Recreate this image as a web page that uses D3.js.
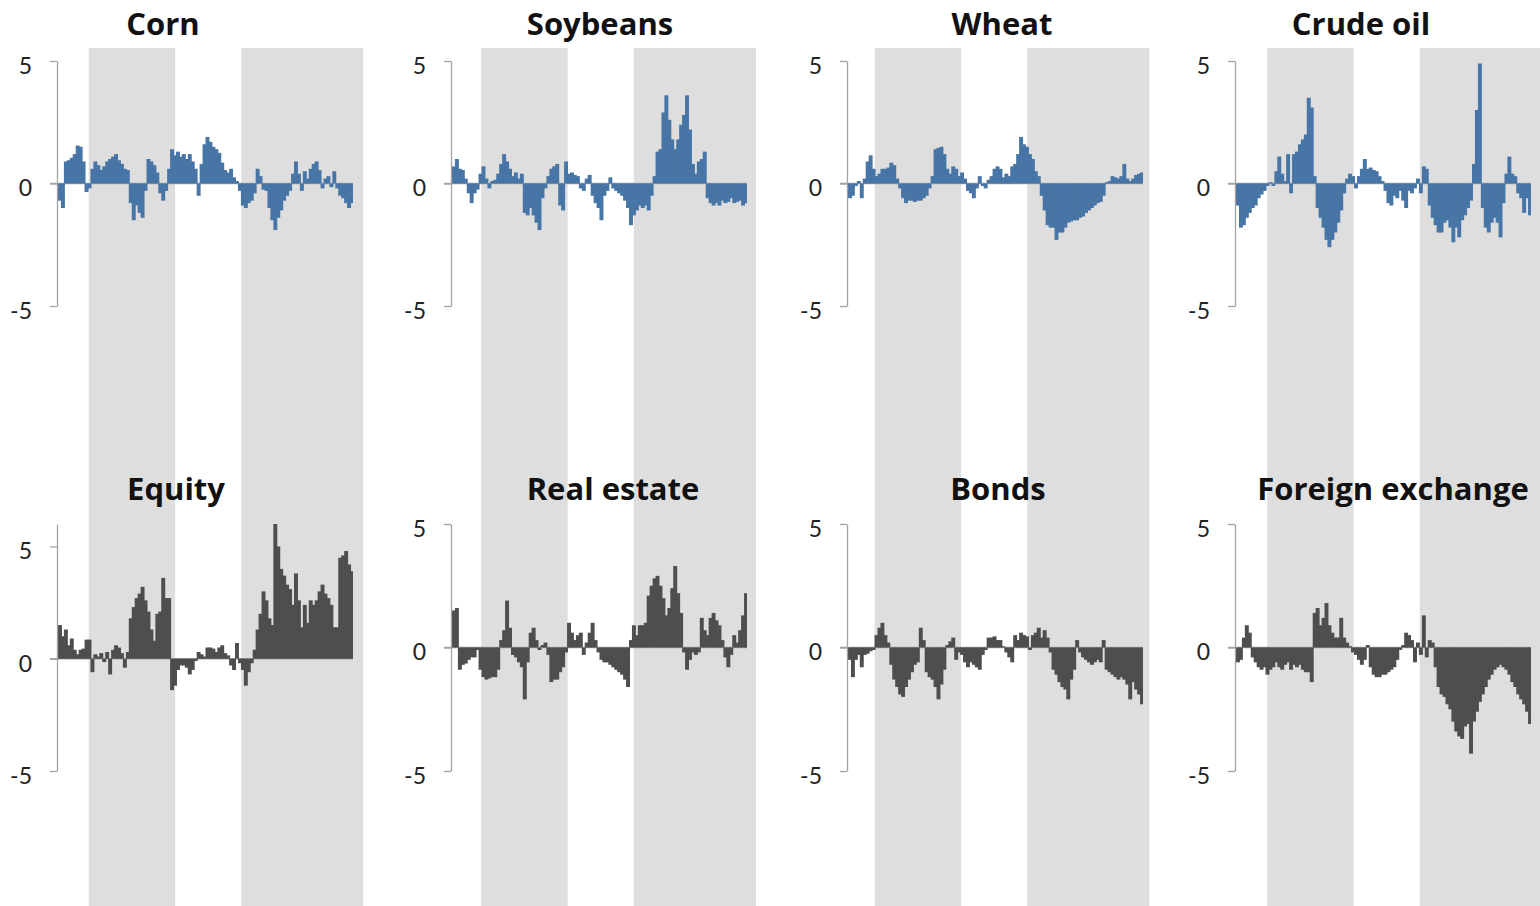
<!DOCTYPE html>
<html>
<head>
<meta charset="utf-8">
<script src="https://cdn.jsdelivr.net/npm/d3@7"></script>
<style>
  html, body { margin: 0; padding: 0; background: #fff; }
  svg { display: block; }
</style>
</head>
<body>
<svg id="chart" width="1540" height="906"></svg>
<script>
// ---- Series values (one bar per period) ----
const corn = [-0.7,-1.0,0.9,0.95,1.05,1.2,1.55,1.5,0.9,-0.35,
  -0.2,0.6,0.9,0.75,0.55,0.7,0.9,1.0,1.1,1.2,
  0.95,0.8,0.6,0.55,-0.8,-1.5,-0.9,-1.2,-1.4,-0.3,
  1.0,0.9,0.75,0.45,-0.4,-0.7,-0.3,0.6,1.4,1.15,
  1.3,1.1,1.2,1.0,1.2,0.9,0.6,-0.5,0.8,1.6,
  1.9,1.7,1.5,1.4,1.25,0.85,0.55,0.45,0.6,0.25,
  0.1,-0.3,-0.9,-1.0,-0.8,-0.7,-0.4,0.6,0.3,-0.25,
  -0.3,-1.0,-1.5,-1.9,-1.4,-1.1,-0.7,-0.5,-0.3,0.4,
  0.9,0.4,-0.3,0.5,0.2,0.6,0.8,0.9,0.55,-0.2,
  0.2,0.3,-0.15,0.5,-0.2,-0.5,-0.6,-0.8,-1.0,-0.8];

const soybeans = [0.7,1.0,0.6,0.55,0.2,-0.4,-0.8,-0.4,-0.25,0.4,
  0.7,0.2,-0.2,0.1,0.15,0.4,0.8,1.2,0.9,0.6,
  0.3,0.45,0.2,0.4,-1.2,-1.3,-1.0,-1.3,-1.6,-1.9,
  -0.6,-0.2,0.3,0.6,0.7,0.8,-0.9,-1.1,0.9,0.4,
  0.45,0.35,0.3,-0.2,-0.3,0.2,0.35,-0.5,-0.8,-1.0,
  -1.5,-0.5,-0.3,0.25,-0.2,-0.3,-0.4,-0.5,-0.7,-1.0,
  -1.7,-1.3,-1.1,-0.9,-1.0,-0.9,-1.1,-0.5,0.3,1.3,
  1.4,2.9,3.6,2.6,1.8,1.4,1.8,2.4,2.8,3.6,
  2.2,0.8,0.4,0.9,1.0,1.3,-0.6,-0.8,-0.9,-0.8,
  -0.9,-0.7,-0.8,-0.75,-0.6,-0.8,-0.75,-0.7,-0.9,-0.8];

const wheat = [-0.6,-0.5,-0.1,0.1,-0.6,0.2,0.9,1.15,0.6,0.3,
  0.4,0.6,0.6,0.65,0.85,0.75,0.2,-0.2,-0.6,-0.8,
  -0.7,-0.7,-0.75,-0.7,-0.7,-0.6,-0.5,-0.2,0.3,1.4,
  1.45,1.5,1.2,0.6,0.4,0.7,0.6,0.3,0.45,0.2,
  -0.3,-0.4,-0.6,-0.2,0.3,-0.1,-0.2,0.15,0.3,0.6,
  0.7,0.6,0.25,0.4,0.3,0.7,0.8,1.2,1.9,1.6,
  1.5,1.2,1.0,0.5,0.3,-0.5,-1.1,-1.7,-1.8,-1.8,
  -2.3,-2.0,-2.0,-1.8,-1.6,-1.55,-1.5,-1.5,-1.4,-1.35,
  -1.2,-1.1,-1.0,-0.9,-0.8,-0.75,-0.5,0.05,0.1,0.3,
  0.25,0.2,0.3,0.8,0.2,0.1,0.2,0.35,0.4,0.45];

const crudeOil = [-0.9,-1.8,-1.7,-1.4,-1.2,-1.0,-0.9,-0.6,-0.45,-0.3,
  -0.1,0.05,-0.1,0.5,1.1,0.4,0.1,1.2,-0.4,1.2,
  1.3,1.6,1.8,2.0,3.5,3.1,0.3,-1.0,-1.4,-1.8,
  -2.3,-2.6,-2.3,-2.0,-1.6,-1.1,-0.4,0.2,0.4,0.3,
  -0.2,0.3,0.6,1.0,0.6,0.65,0.55,0.5,0.3,0.1,
  -0.3,-0.8,-0.9,-0.5,-0.6,-0.3,-0.7,-1.0,-0.3,-0.4,
  -0.2,0.2,-0.4,0.7,0.6,-0.9,-1.4,-1.7,-2.0,-2.0,
  -1.6,-1.5,-1.8,-2.4,-1.8,-2.2,-1.5,-1.3,-1.0,-0.7,
  0.8,3.0,4.9,-1.0,-1.8,-2.0,-1.6,-1.4,-1.6,-2.2,
  -0.8,0.4,1.1,0.4,0.3,-0.4,-0.6,-1.2,-0.6,-1.3];

const equity = [1.5,1.0,1.3,0.6,0.9,0.4,0.2,0.4,0.45,0.85,
  0.85,-0.6,0.2,0.1,0.25,-0.15,0.3,-0.7,0.4,0.6,
  0.5,0.25,-0.4,0.3,1.8,2.3,2.7,2.9,3.2,2.6,
  2.1,1.3,0.8,2.0,2.1,3.6,2.7,2.7,-1.4,-1.2,
  -0.5,-0.3,-0.3,-0.4,-0.7,-0.5,-0.1,0.3,0.2,0.1,
  0.5,0.5,0.45,0.3,0.5,0.6,0.25,0.15,-0.3,-0.5,
  0.7,-0.2,-0.5,-1.2,-0.6,-0.2,0.4,1.3,2.0,3.0,
  2.6,1.8,1.5,6.0,5.0,4.0,3.7,3.3,3.1,2.4,
  3.8,2.6,1.4,2.4,1.6,2.6,2.4,2.6,3.0,3.3,
  2.9,2.7,2.4,1.4,1.4,4.5,4.6,4.8,4.2,3.9];

const realEstate = [1.5,1.6,-0.9,-0.7,-0.65,-0.5,-0.4,-0.4,-0.1,-0.9,
  -1.2,-1.3,-1.25,-1.2,-1.2,-0.9,0.3,0.7,1.9,0.8,
  -0.3,-0.4,-0.6,-0.8,-2.1,-0.6,0.6,0.8,0.3,-0.1,
  0.1,0.2,-0.3,-1.4,-1.3,-1.3,-1.0,-0.8,-0.2,1.0,
  0.6,0.3,0.5,0.6,-0.3,0.2,0.6,1.0,0.3,-0.2,
  -0.5,-0.6,-0.6,-0.7,-0.8,-0.9,-1.0,-1.1,-1.3,-1.6,
  0.3,0.9,0.5,0.9,0.9,1.0,2.1,2.5,2.8,2.9,
  2.5,2.0,1.3,1.6,2.4,3.3,2.2,1.4,-0.2,-0.9,
  -0.5,-0.2,-0.3,-0.2,1.2,0.7,0.5,1.2,1.4,1.1,
  0.9,0.3,-0.4,-0.8,-0.3,0.5,0.2,0.7,1.3,2.2];

const bonds = [-0.5,-1.2,-0.5,-0.3,-0.8,-0.3,-0.25,-0.15,-0.1,0.5,
  0.8,1.0,0.5,0.2,-0.7,-1.3,-1.6,-1.9,-2.0,-1.6,
  -1.3,-1.0,-0.7,-0.6,0.8,0.3,-1.0,-1.2,-1.3,-1.6,
  -2.1,-1.5,-0.9,0.1,0.25,0.4,-0.5,-0.2,-0.3,-0.6,
  -0.8,-0.6,-0.7,-0.8,-0.9,-0.3,-0.1,0.4,0.4,0.45,
  0.3,0.3,0.05,-0.2,-0.4,-0.6,0.5,0.3,0.6,0.5,
  0.45,-0.1,0.5,0.6,0.8,0.4,0.7,0.4,-0.2,-0.9,
  -1.1,-1.4,-1.6,-1.7,-2.1,-1.3,-0.9,0.3,-0.2,-0.4,
  -0.5,-0.6,-0.7,-0.6,-0.5,-0.6,0.3,-0.9,-1.0,-1.1,
  -1.2,-1.3,-1.2,-1.3,-1.5,-2.1,-1.4,-1.7,-1.9,-2.3];

const foreignExchange = [-0.6,-0.5,0.4,0.9,0.6,-0.4,-0.6,-0.8,-0.9,-0.8,
  -1.1,-0.9,-0.8,-0.6,-0.8,-0.9,-0.7,-0.6,-0.9,-0.7,
  -0.8,-0.7,-0.9,-1.0,-1.0,-1.4,1.4,1.6,0.9,1.2,
  1.8,0.9,0.6,0.4,0.4,1.2,0.4,0.2,0.05,-0.2,
  -0.3,-0.5,-0.7,-0.5,0.1,-0.8,-1.1,-1.2,-1.2,-1.1,
  -1.1,-1.0,-0.9,-0.8,-0.5,-0.1,0.1,0.6,0.5,0.3,
  -0.6,0.2,-0.3,1.3,-0.4,0.3,0.2,-0.8,-1.6,-1.9,
  -2.0,-2.3,-2.5,-3.0,-3.4,-3.6,-3.7,-3.2,-3.1,-4.3,
  -3.0,-2.6,-2.2,-1.9,-1.6,-1.3,-1.1,-0.9,-0.8,-0.7,
  -0.8,-0.9,-1.1,-1.4,-1.6,-1.9,-2.1,-2.3,-2.6,-3.1];

const panelTitles = ["Corn", "Soybeans", "Wheat", "Crude oil",
                     "Equity", "Real estate", "Bonds", "Foreign exchange"];
const panelSeries = [corn, soybeans, wheat, crudeOil,
                     equity, realEstate, bonds, foreignExchange];
const yMaxima = [5, 5, 5, 5, 6, 5, 5, 5];
const yMinimum = -5;
const tickValues = [-5, 0, 5];
// shaded periods, in bar-index units
const shadedPeriods = [[9.9, 39.2], [61.6, 103]];

// ---- Layout ----
const W = 1540, H = 906;
const colAxisX = [57, 451, 847, 1235];
const bandNudge = [1.5, 0, -2.5, 2];
const plotWidth = 295;
const rowLayout = [
  { top: 61, bottom: 306, titleY: 35, fill: "#4775a5" },
  { top: 524, bottom: 771, titleY: 500, fill: "#4e4e4e" }
];
const titleCenters = [163, 600, 1002, 1361, 176, 613, 998, 1393];
const bandTop = 48;
const axisColor = "#a3a3a3";
const tickFont = "Lato, 'Open Sans', sans-serif";
const titleFont = "'Open Sans', Lato, sans-serif";

const svg = d3.select("#chart");
svg.append("rect").attr("width", W).attr("height", H).attr("fill", "#fff");

const xScaleFor = (col, n) => d3.scaleLinear()
  .domain([0, n])
  .range([colAxisX[col] + 1, colAxisX[col] + 1 + plotWidth]);

// Shaded periods span both rows of each column
const bandLayer = svg.append("g");
colAxisX.forEach((ax, col) => {
  const x = xScaleFor(col, panelSeries[col].length);
  bandLayer.selectAll(null)
    .data(shadedPeriods)
    .join("rect")
    .attr("x", d => x(d[0]) + bandNudge[col])
    .attr("width", d => x(d[1]) - x(d[0]))
    .attr("y", bandTop)
    .attr("height", H - bandTop)
    .attr("fill", "#dedede");
});

panelTitles.forEach((title, p) => {
  const row = Math.floor(p / 4), col = p % 4;
  const lay = rowLayout[row];
  const data = panelSeries[p];
  const x = xScaleFor(col, data.length);
  const y = d3.scaleLinear().domain([yMinimum, yMaxima[p]]).range([lay.bottom, lay.top]);
  const g = svg.append("g");

  // zero line
  g.append("line")
    .attr("x1", colAxisX[col] - 7).attr("x2", x(data.length))
    .attr("y1", y(0)).attr("y2", y(0))
    .attr("stroke", axisColor).attr("stroke-width", 1.3);

  // bars (each overlaps its neighbour slightly so no seams show)
  g.append("g").selectAll("rect")
    .data(data)
    .join("rect")
    .attr("x", (d, i) => x(i))
    .attr("width", (d, i) => x(i + 1) - x(i) + (i < data.length - 1 ? 1 : 0))
    .attr("y", d => y(Math.max(0, d)))
    .attr("height", d => Math.abs(y(d) - y(0)))
    .attr("fill", lay.fill);

  // value axis
  const axis = d3.axisLeft(y)
    .tickValues(tickValues)
    .tickSize(7)
    .tickSizeOuter(0)
    .tickPadding(18)
    .tickFormat(d => String(d));
  const ag = g.append("g")
    .attr("transform", `translate(${colAxisX[col]},0)`)
    .call(axis);
  ag.select(".domain").attr("stroke", axisColor).attr("stroke-width", 1.3);
  ag.selectAll(".tick line").attr("stroke", axisColor).attr("stroke-width", 1.3);
  ag.selectAll(".tick text")
    .attr("font-family", tickFont)
    .attr("font-size", 23)
    .attr("fill", "#222")
    .attr("dy", "0.32em")
    .attr("transform", "translate(0,5)");

  // title
  svg.append("text")
    .attr("x", titleCenters[p])
    .attr("y", lay.titleY)
    .attr("text-anchor", "middle")
    .attr("font-family", titleFont)
    .attr("font-weight", "bold")
    .attr("font-size", 31)
    .attr("fill", "#111")
    .text(title);
});
</script>
</body>
</html>
